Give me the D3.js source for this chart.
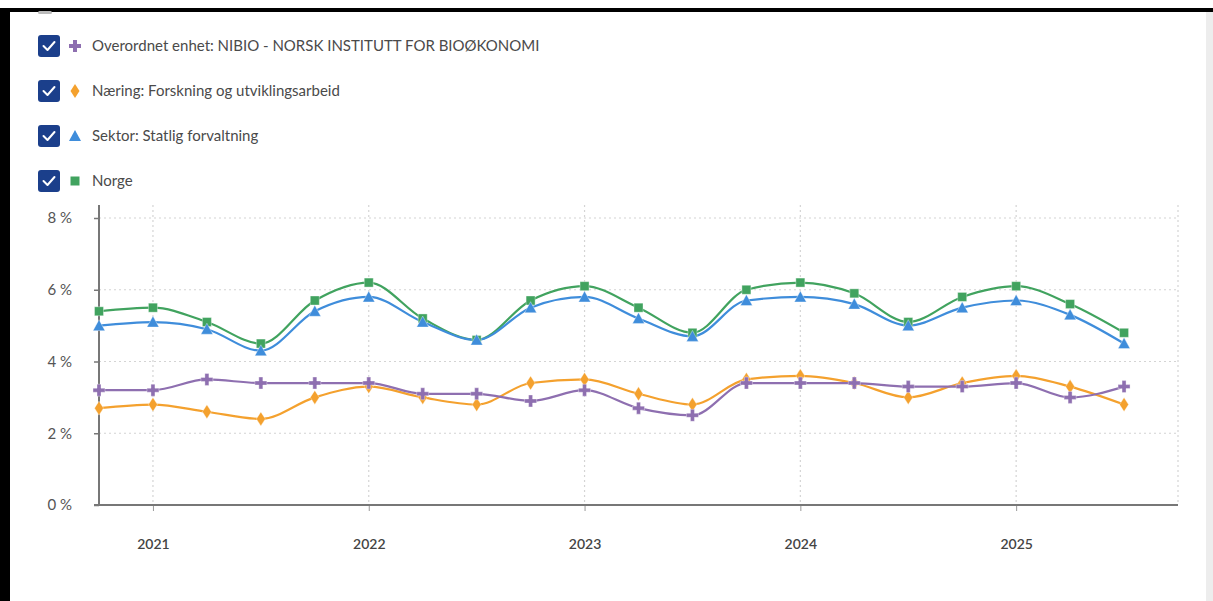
<!DOCTYPE html>
<html><head><meta charset="utf-8">
<script src="https://cdn.jsdelivr.net/npm/d3@7"></script>
<style>
html,body{margin:0;padding:0;background:#fff;}
svg{display:block;}
</style></head>
<body>
<svg id="chart" width="1213" height="601"></svg>
<script>
// ---- data ----
const periods = [2020.75,2021.0,2021.25,2021.5,2021.75,2022.0,2022.25,2022.5,2022.75,2023.0,2023.25,2023.5,2023.75,2024.0,2024.25,2024.5,2024.75,2025.0,2025.25,2025.5];
const nibio   = [3.2,3.2,3.5,3.4,3.4,3.4,3.1,3.1,2.9,3.2,2.7,2.5,3.4,3.4,3.4,3.3,3.3,3.4,3.0,3.3];
const naering = [2.7,2.8,2.6,2.4,3.0,3.3,3.0,2.8,3.4,3.5,3.1,2.8,3.5,3.6,3.4,3.0,3.4,3.6,3.3,2.8];
const sektor  = [5.0,5.1,4.9,4.3,5.4,5.8,5.1,4.6,5.5,5.8,5.2,4.7,5.7,5.8,5.6,5.0,5.5,5.7,5.3,4.5];
const norge   = [5.4,5.5,5.1,4.5,5.7,6.2,5.2,4.6,5.7,6.1,5.5,4.8,6.0,6.2,5.9,5.1,5.8,6.1,5.6,4.8];
const yTicks = [0,2,4,6,8];
const xTicks = [2021,2022,2023,2024,2025];
const seriesNames = ["Overordnet enhet: NIBIO - NORSK INSTITUTT FOR BIOØKONOMI","Næring: Forskning og utviklingsarbeid","Sektor: Statlig forvaltning","Norge"];

const seriesDefs = [
  {name: seriesNames[0], values: nibio,   color: "#8e6fb0", marker: "cross"},
  {name: seriesNames[1], values: naering, color: "#f4a12e", marker: "diamond"},
  {name: seriesNames[2], values: sektor,  color: "#3f8ddb", marker: "triangle"},
  {name: seriesNames[3], values: norge,   color: "#41a35f", marker: "square"}
];

const svg = d3.select("#chart");
const font = "'Source Sans Pro', Lato, 'Noto Sans', sans-serif";

// frame
svg.append("rect").attr("x",0).attr("y",8).attr("width",1213).attr("height",4).attr("fill","#000");
svg.append("rect").attr("x",0).attr("y",8).attr("width",10).attr("height",593).attr("fill","#000");
svg.append("rect").attr("x",1206).attr("y",12).attr("width",7).attr("height",589).attr("fill","#ededed");
svg.append("rect").attr("x",38).attr("y",11).attr("width",14).attr("height",3).attr("rx",1.5).attr("fill","#bbb");

// markers
function markerPath(type){
  if(type==="diamond") return "M0,-7L4.5,0L0,7L-4.5,0Z";
  if(type==="triangle") return "M0,-6L6,5L-6,5Z";
  if(type==="square") return "M-4.5,-4.5H4.5V4.5H-4.5Z";
  return "M-2,-6H2V-2H6V2H2V6H-2V2H-6V-2H-2Z";
}

// legend
const legend = svg.append("g");
seriesDefs.forEach((s,i)=>{
  const cy = 46 + i*45;
  const g = legend.append("g");
  g.append("rect").attr("x",38).attr("y",cy-11).attr("width",22).attr("height",22).attr("rx",3).attr("fill","#1b3f8b");
  g.append("path").attr("d",`M${43.5},${cy}L${47.5},${cy+4}L${54.5},${cy-4}`)
    .attr("fill","none").attr("stroke","#fff").attr("stroke-width",2).attr("stroke-linecap","round").attr("stroke-linejoin","round");
  g.append("path").attr("d",markerPath(s.marker)).attr("transform",`translate(75,${cy})`).attr("fill",s.color);
  g.append("text").attr("x",92).attr("y",cy+5).attr("font-family",font).attr("font-size",15)
    .attr("fill","#4a4a4a").text(s.name);
});

// scales
const x = d3.scaleLinear().domain([2020.75,2025.75]).range([99,1178]);
const y = d3.scaleLinear().domain([0,8]).range([505,218]);
const plotTop = 205;

// grid
const grid = svg.append("g");
yTicks.filter(v=>v>0).forEach(v=>{
  grid.append("line").attr("x1",99).attr("x2",1178).attr("y1",y(v)).attr("y2",y(v))
    .attr("stroke","#d4d4d4").attr("stroke-dasharray","2,3").attr("stroke-width",1.2);
});
xTicks.concat([2025.75]).forEach(v=>{
  grid.append("line").attr("x1",x(v)).attr("x2",x(v)).attr("y1",plotTop).attr("y2",505)
    .attr("stroke","#d4d4d4").attr("stroke-dasharray","2,3").attr("stroke-width",1.2);
});

// axes
const yAxis = d3.axisLeft(y).tickValues(yTicks).tickFormat(d=>d+" %").tickSize(5).tickPadding(22);
const gy = svg.append("g").attr("transform","translate(99,0)").call(yAxis);
gy.select(".domain").remove();
gy.append("line").attr("x1",0).attr("x2",0).attr("y1",plotTop).attr("y2",506).attr("stroke","#777").attr("stroke-width",2);
gy.selectAll(".tick line").attr("stroke","#777").attr("stroke-width",1.5);
gy.selectAll(".tick text").attr("font-family",font).attr("font-size",15).attr("fill","#555");

const xAxis = d3.axisBottom(x).tickValues(xTicks).tickFormat(d3.format("d")).tickSize(6).tickPadding(28);
const gx = svg.append("g").attr("transform","translate(0,505)").call(xAxis);
gx.select(".domain").remove();
gx.append("line").attr("x1",94).attr("x2",1178).attr("y1",0).attr("y2",0).attr("stroke","#777").attr("stroke-width",2);
gx.selectAll(".tick line").attr("stroke","#999").attr("stroke-width",1);
gx.selectAll(".tick text").attr("font-family",font).attr("font-size",14).attr("font-weight",600).attr("fill","#444");

// series
const line = d3.line().x(d=>x(d[0])).y(d=>y(d[1])).curve(d3.curveMonotoneX);
const order = [3,2,1,0];
order.forEach(k=>{
  const s = seriesDefs[k];
  const pts = periods.map((p,i)=>[p,s.values[i]]);
  svg.append("path").datum(pts).attr("d",line).attr("fill","none").attr("stroke",s.color).attr("stroke-width",2.2);
});
order.forEach(k=>{
  const s = seriesDefs[k];
  const pts = periods.map((p,i)=>[p,s.values[i]]);
  svg.append("g").selectAll("path").data(pts).join("path")
    .attr("d",markerPath(s.marker))
    .attr("transform",d=>`translate(${x(d[0])},${y(d[1])})`)
    .attr("fill",s.color).attr("stroke","#fff").attr("stroke-width",0.6).attr("stroke-opacity",0.6);
});
</script>
</body></html>
